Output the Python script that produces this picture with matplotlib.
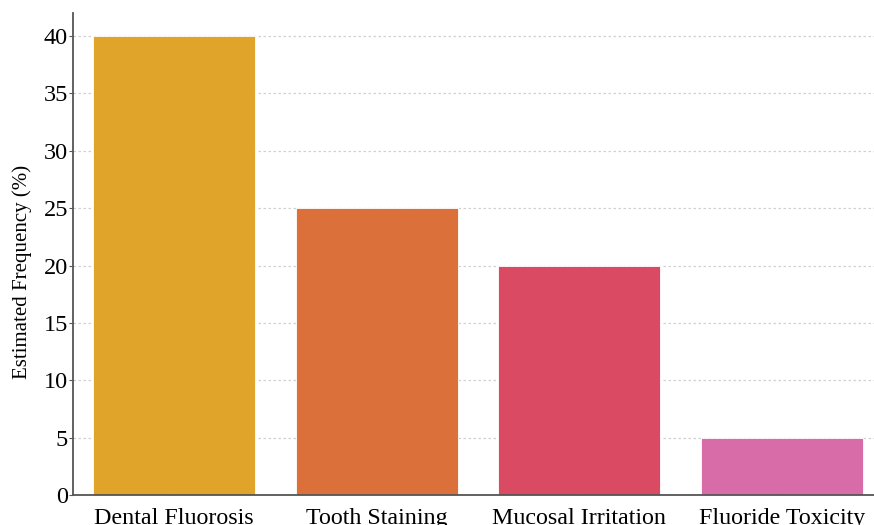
import matplotlib.pyplot as plt

plt.rcParams["font.family"] = ["Liberation Serif", "DejaVu Serif"]

EFFECTS = ["Dental Fluorosis", "Tooth Staining", "Mucosal Irritation", "Fluoride Toxicity"]
FREQUENCY = [40, 25, 20, 5]
BAR_COLORS = ["#e0a42a", "#db703a", "#da4a63", "#d76ca8"]


def main() -> None:
	fig = plt.figure(figsize=(8.74, 5.25), dpi=100)
	ax = fig.add_axes([0.0835, 0.057, 0.927, 0.918])

	x_positions = list(range(len(EFFECTS)))
	ax.bar(x_positions, FREQUENCY, width=0.8, color=BAR_COLORS, edgecolor="white", linewidth=0.6, zorder=2)

	ax.set_xlim(-0.5, len(EFFECTS) - 0.5)
	ax.set_ylim(0, 42)
	ax.set_yticks(range(0, 45, 5))
	ax.set_xticks(x_positions)
	ax.set_xticklabels(EFFECTS)
	ax.set_ylabel("Estimated Frequency (%)", fontsize=15)
	ax.yaxis.set_label_coords(-0.05, 0.463)

	ax.grid(True, axis="y", linestyle=(0, (2, 2)), color="#d0d0d0", linewidth=0.9, zorder=0)
	ax.set_axisbelow(True)
	for side in ("top", "right"):
		ax.spines[side].set_visible(False)
	for side in ("left", "bottom"):
		ax.spines[side].set_color("#555555")
		ax.spines[side].set_linewidth(1.3)
	ax.tick_params(axis="y", direction="out", length=3, color="#555555", labelsize=17.5, pad=0.5)
	ax.tick_params(axis="x", direction="in", length=4, color="#555555", labelsize=17.3, pad=9)

	fig.savefig("out.png", dpi=100)
	plt.close(fig)


if __name__ == "__main__":
	main()
